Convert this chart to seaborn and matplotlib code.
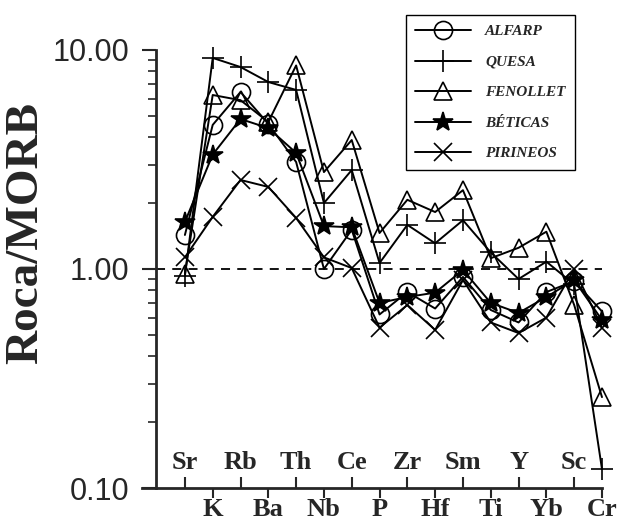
import matplotlib
matplotlib.use("Agg")
import matplotlib.pyplot as plt
import matplotlib.ticker as mticker
import seaborn as sns
import pandas as pd

elements = ["Sr", "K", "Rb", "Ba", "Th", "Nb", "Ce", "P", "Zr", "Hf",
            "Sm", "Ti", "Y", "Yb", "Sc", "Cr"]

alfarp = [1.43, 4.55, 6.43, 4.6, 3.08, 1.0, 1.51, 0.62, 0.785, 0.66,
          0.92, 0.65, 0.57, 0.785, 0.88, 0.64]
quesa = [0.93, 9.2, 8.36, 7.14, 6.57, 2.0, 2.83, 1.065, 1.59, 1.31,
         1.67, 1.19, 0.90, 1.08, 0.85, 0.122]
fenollet = [0.95, 6.23, 5.9, 4.69, 8.5, 2.77, 3.88, 1.46, 2.07, 1.82,
            2.29, 1.12, 1.25, 1.48, 0.685, 0.26]
beticas = [1.64, 3.33, 4.84, 4.4, 3.39, 1.57, 1.55, 0.70, 0.745, 0.78,
           0.99, 0.70, 0.63, 0.745, 0.89, 0.585]
pirineos = [1.13, 1.73, 2.55, 2.37, 1.71, 1.13, 1.01, 0.54, 0.685, 0.527,
            0.89, 0.57, 0.51, 0.60, 1.0, 0.54]

series = {
    "ALFARP": (alfarp, "o", "none", 13),
    "QUESA": (quesa, "+", "k", 16),
    "FENOLLET": (fenollet, "^", "none", 13),
    "BÉTICAS": (beticas, "*", "k", 15),
    "PIRINEOS": (pirineos, "x", "k", 13),
}

sns.set_style("ticks")
plt.rcParams["font.family"] = ["Liberation Serif", "DejaVu Serif"]

fig = plt.figure(figsize=(6.19, 5.24), dpi=100)
ax = fig.add_axes([0.252, 0.0687, 0.7205, 0.8359])

x = list(range(len(elements)))
for name, (vals, mk, mfc, ms) in series.items():
    df = pd.DataFrame({"x": x, "y": vals})
    sns.lineplot(data=df, x="x", y="y", ax=ax, color="k", lw=1.4,
                 marker=mk, markersize=ms, markerfacecolor=mfc,
                 markeredgecolor="k", markeredgewidth=1.2, label=name,
                 clip_on=False)

ax.axhline(1.0, color="k", ls=(0, (5, 4)), lw=1.3, zorder=0)

ax.set_yscale("log")
ax.set_ylim(0.1, 10)
ax.set_xlim(-1.04, 15)

ax.yaxis.set_major_locator(mticker.FixedLocator([0.1, 1, 10]))
ax.yaxis.set_major_formatter(mticker.FormatStrFormatter("%.2f"))
ax.yaxis.set_minor_locator(mticker.LogLocator(subs=range(2, 10)))
ax.yaxis.set_minor_formatter(mticker.NullFormatter())
for lab in ax.get_yticklabels():
    lab.set_family("Liberation Sans")
ax.tick_params(axis="y", which="major", length=10, width=1.5, labelsize=22, pad=9)
ax.tick_params(axis="y", which="minor", length=6, width=1.2)

# outward ticks with labels below, inward ticks with labels above the axis
ax.set_xticks(x[1::2])
ax.set_xticklabels(elements[1::2], fontsize=19, fontweight="bold")
ax.set_xticks(x[0::2], minor=True)
ax.set_xticklabels(elements[0::2], minor=True, fontsize=19, fontweight="bold")
ax.tick_params(axis="x", which="major", direction="out", length=7, width=1.5, pad=0.5)
ax.tick_params(axis="x", which="minor", direction="in", length=8, width=1.5, pad=-27)

ax.set_xlabel("")
ax.set_ylabel("Roca/MORB", fontsize=34, fontweight="bold")
ax.yaxis.set_label_coords(-0.243, 0.582)

sns.despine(ax=ax)
ax.spines["left"].set_linewidth(2)
ax.spines["bottom"].set_linewidth(2)
# bottom axis line runs a little past the left spine
ax.spines["bottom"].set_bounds(-1.55, 15)
ax.spines["bottom"].set_clip_on(False)

leg = ax.legend(loc="upper left", bbox_to_anchor=(0.643, 0.985),
                bbox_transform=fig.transFigure, fancybox=False,
                edgecolor="k", framealpha=1, handlelength=3.7,
                labelspacing=1.1, borderpad=0.6, handletextpad=0.9,
                prop={"family": "Liberation Serif", "weight": "bold",
                      "style": "italic", "size": 11})
leg.get_frame().set_linewidth(1.0)

fig.savefig("out.png", dpi=100)
